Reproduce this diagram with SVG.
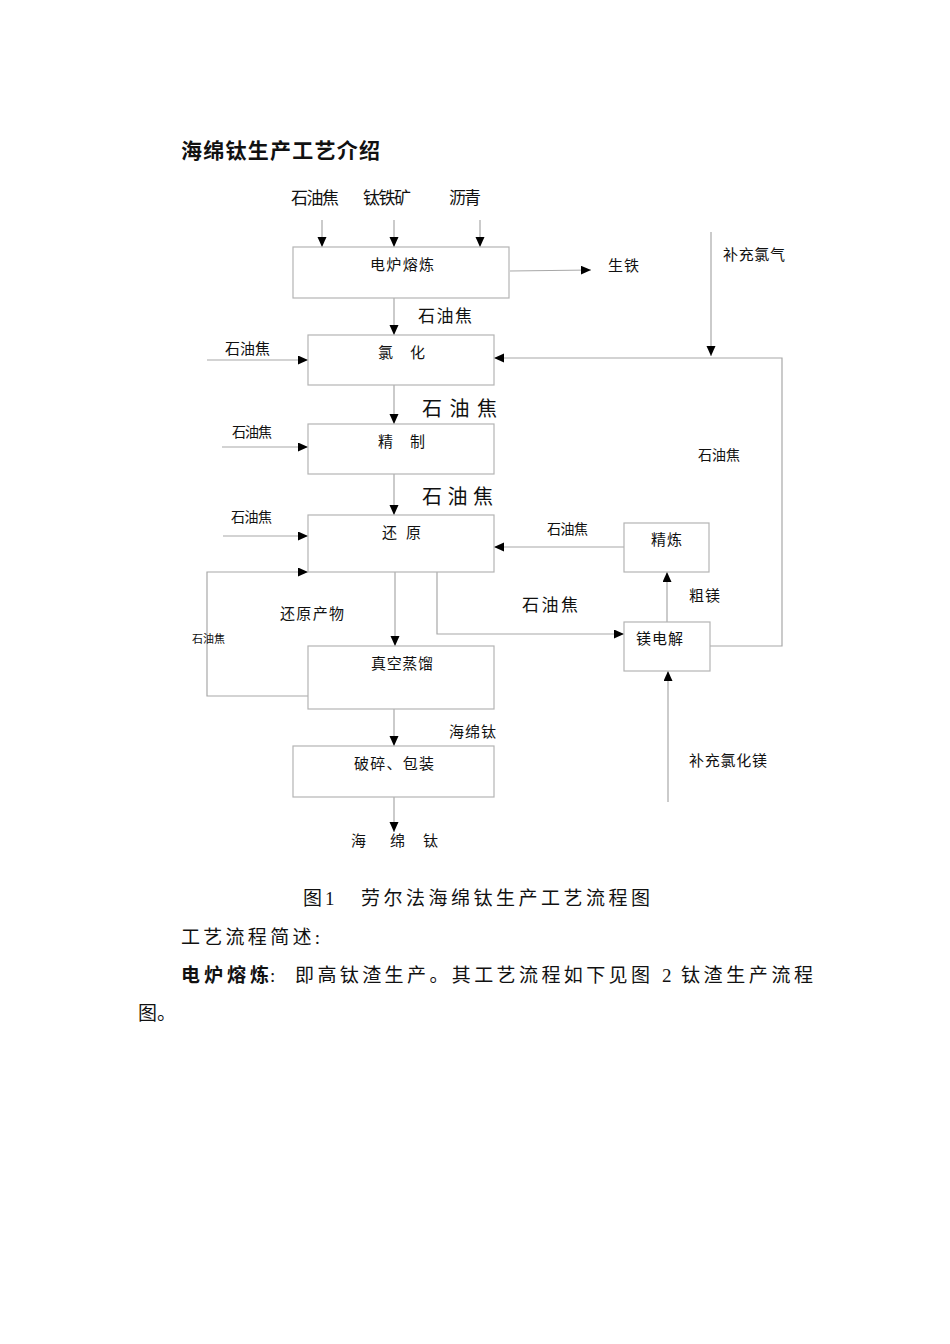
<svg xmlns="http://www.w3.org/2000/svg" width="950" height="1344" viewBox="0 0 950 1344">
<style>
text{font-family:"Liberation Serif","Noto Sans CJK SC",serif;fill:#111;}
.l{font-size:15px;}
.s{font-size:14px;}
.m{font-size:17px;}
.b{font-size:20px;}
.p{font-size:19px;}
.box{fill:#fff;stroke:#b4b4b4;stroke-width:1.2;}
.c{fill:none;stroke:#a8a8a8;stroke-width:1.2;}
</style>
<defs>
<marker id="ah" markerUnits="userSpaceOnUse" markerWidth="11" markerHeight="10" refX="10" refY="4.5" orient="auto">
<path d="M0,0 L10,4.5 L0,9 z" fill="#000"/>
</marker>
</defs>
<rect width="950" height="1344" fill="#fff"/>
<text x="181" y="158" style="font-size:21px;font-weight:bold;font-family:'Noto Sans CJK SC',sans-serif" textLength="199" lengthAdjust="spacing">海绵钛生产工艺介绍</text>

<g id="connectors">
<line class="c" x1="322" y1="220" x2="322" y2="247" marker-end="url(#ah)"/>
<line class="c" x1="394" y1="220" x2="394" y2="247" marker-end="url(#ah)"/>
<line class="c" x1="480" y1="220" x2="480" y2="247" marker-end="url(#ah)"/>
<line class="c" x1="510" y1="271" x2="591" y2="270" marker-end="url(#ah)"/>
<line class="c" x1="394" y1="298" x2="394" y2="335" marker-end="url(#ah)"/>
<line class="c" x1="207" y1="360" x2="308" y2="360" marker-end="url(#ah)"/>
<line class="c" x1="711" y1="232" x2="711" y2="356" marker-end="url(#ah)"/>
<polyline class="c" points="710,646 782,646 782,358 494,358" marker-end="url(#ah)"/>
<line class="c" x1="394" y1="385" x2="394" y2="424" marker-end="url(#ah)"/>
<line class="c" x1="222" y1="447" x2="308" y2="447" marker-end="url(#ah)"/>
<line class="c" x1="394" y1="474" x2="394" y2="515" marker-end="url(#ah)"/>
<line class="c" x1="223" y1="536" x2="308" y2="536" marker-end="url(#ah)"/>
<polyline class="c" points="308,696 207,696 207,572 308,572" marker-end="url(#ah)"/>
<line class="c" x1="395" y1="572" x2="395" y2="646" marker-end="url(#ah)"/>
<polyline class="c" points="437,572 437,634 624,634" marker-end="url(#ah)"/>
<line class="c" x1="624" y1="547" x2="494" y2="547" marker-end="url(#ah)"/>
<line class="c" x1="667" y1="622" x2="667" y2="572" marker-end="url(#ah)"/>
<line class="c" x1="668" y1="802" x2="668" y2="671" marker-end="url(#ah)"/>
<line class="c" x1="394" y1="709" x2="394" y2="746" marker-end="url(#ah)"/>
<line class="c" x1="394" y1="797" x2="394" y2="832" marker-end="url(#ah)"/>
</g>

<g id="inputs">
<text class="m" x="291" y="204" textLength="48" lengthAdjust="spacing">石油焦</text>
<text class="m" x="363" y="204" textLength="48" lengthAdjust="spacing">钛铁矿</text>
<text class="m" x="449" y="204" textLength="32" lengthAdjust="spacing">沥青</text>
</g>

<g id="n-dianlu">
<rect class="box" x="293" y="247" width="216" height="51"/>
<text class="l" x="370" y="270" textLength="64" lengthAdjust="spacing">电炉熔炼</text>
</g>
<g id="n-shengtie"><text class="l" x="608" y="271" textLength="31" lengthAdjust="spacing">生铁</text></g>
<g id="n-buchonglvqi"><text class="l" x="723" y="260" textLength="62" lengthAdjust="spacing">补充氯气</text></g>

<g id="n-lvhua">
<rect class="box" x="308" y="335" width="186" height="50"/>
<text class="l" x="378" y="358">氯</text>
<text class="l" x="410" y="358">化</text>
</g>
<text class="m" x="418" y="322" textLength="54" lengthAdjust="spacing">石油焦</text>
<text class="l" x="225" y="354" textLength="45" lengthAdjust="spacing">石油焦</text>
<text class="b" x="422" y="416" textLength="75" lengthAdjust="spacing">石油焦</text>

<g id="n-jingzhi">
<rect class="box" x="308" y="424" width="186" height="50"/>
<text class="l" x="378" y="447">精</text>
<text class="l" x="410" y="447">制</text>
</g>
<text class="s" x="232" y="437" textLength="40" lengthAdjust="spacing">石油焦</text>
<text class="b" x="422" y="504" textLength="71" lengthAdjust="spacing">石油焦</text>

<g id="n-huanyuan">
<rect class="box" x="308" y="515" width="186" height="57"/>
<text class="l" x="382" y="538" textLength="39" lengthAdjust="spacing">还 原</text>
</g>
<text class="s" x="231" y="522" textLength="41" lengthAdjust="spacing">石油焦</text>
<text class="l" x="280" y="619" textLength="64" lengthAdjust="spacing">还原产物</text>
<text x="192" y="643" style="font-size:11px">石油焦</text>
<text class="m" x="522" y="611" textLength="56" lengthAdjust="spacing">石油焦</text>
<text class="s" x="547" y="534" textLength="41" lengthAdjust="spacing">石油焦</text>
<text class="s" x="698" y="460" textLength="42" lengthAdjust="spacing">石油焦</text>

<g id="n-zhenkong">
<rect class="box" x="308" y="646" width="186" height="63"/>
<text class="l" x="371" y="669" textLength="62" lengthAdjust="spacing">真空蒸馏</text>
</g>

<g id="n-jinglian">
<rect class="box" x="624" y="523" width="85" height="49"/>
<text class="l" x="651" y="545" textLength="31" lengthAdjust="spacing">精炼</text>
</g>
<text class="l" x="689" y="601" textLength="31" lengthAdjust="spacing">粗镁</text>

<g id="n-meidianjie">
<rect class="box" x="624" y="622" width="86" height="49"/>
<text class="l" x="636" y="644" textLength="47" lengthAdjust="spacing">镁电解</text>
</g>
<text class="l" x="689" y="766" textLength="78" lengthAdjust="spacing">补充氯化镁</text>

<text class="l" x="449" y="737" textLength="47" lengthAdjust="spacing">海绵钛</text>
<g id="n-posui">
<rect class="box" x="293" y="746" width="201" height="51"/>
<text class="l" x="354" y="769" textLength="80" lengthAdjust="spacing">破碎、包装</text>
</g>
<g id="n-haimiantai">
<text class="l" x="351" y="846">海</text>
<text class="l" x="390" y="846">绵</text>
<text class="l" x="423" y="846">钛</text>
</g>

<text class="p" x="303" y="905">图</text>
<text class="p" x="325" y="905">1</text>
<text class="p" x="361" y="905" textLength="289" lengthAdjust="spacing">劳尔法海绵钛生产工艺流程图</text>
<text class="p" x="181" y="944" textLength="139" lengthAdjust="spacing">工艺流程简述:</text>
<text x="181" y="982" style="font-size:19px;font-weight:bold;font-family:'Noto Sans CJK SC',sans-serif" textLength="88" lengthAdjust="spacing">电炉熔炼</text>
<text class="p" x="270" y="982">:</text>
<text class="p" x="295" y="982" textLength="355" lengthAdjust="spacing">即高钛渣生产。其工艺流程如下见图</text>
<text class="p" x="662" y="982">2</text>
<text class="p" x="681" y="982" textLength="132" lengthAdjust="spacing">钛渣生产流程</text>
<text class="p" x="138" y="1020" textLength="38" lengthAdjust="spacing">图。</text>
</svg>
